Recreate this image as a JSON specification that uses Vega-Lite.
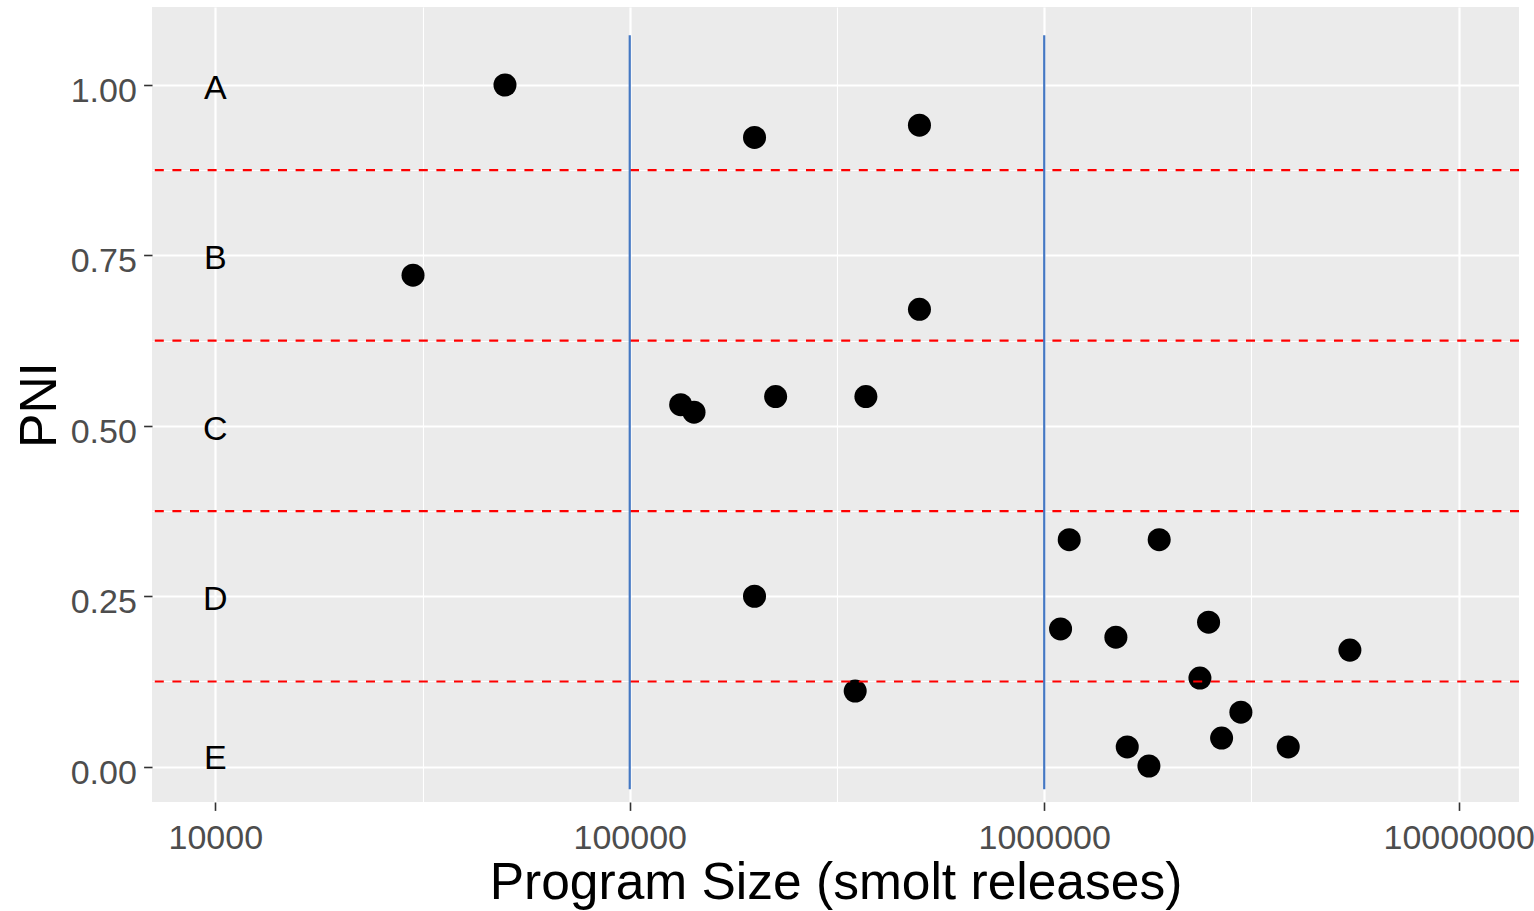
{
  "$schema": "https://vega.github.io/schema/vega-lite/v6.json",
  "width": 1367,
  "height": 795,
  "autosize": {"type": "none"},
  "padding": {"left": 152, "top": 7, "right": 15, "bottom": 109},
  "background": "white",
  "config": {
    "view": {"fill": "#EBEBEB", "stroke": null},
    "font": "Liberation Sans",
    "axis": {
      "domain": false,
      "gridColor": "white",
      "tickColor": "#333333",
      "tickWidth": 1.6,
      "tickSize": 8.4,
      "labelFont": "Liberation Sans",
      "labelFontSize": 34,
      "labelColor": "#4D4D4D",
      "titleFont": "Liberation Sans",
      "titleFontSize": 51.5,
      "titleFontWeight": "normal",
      "titleColor": "black"
    }
  },
  "datasets": {
    "points": [
      {"size": 50000, "pni": 1.0},
      {"size": 200000, "pni": 0.923},
      {"size": 500000, "pni": 0.941},
      {"size": 30000, "pni": 0.721},
      {"size": 500000, "pni": 0.671},
      {"size": 132700, "pni": 0.531},
      {"size": 142900, "pni": 0.52},
      {"size": 224900, "pni": 0.543},
      {"size": 371300, "pni": 0.543},
      {"size": 1149000, "pni": 0.333},
      {"size": 1894000, "pni": 0.333},
      {"size": 200000, "pni": 0.25},
      {"size": 1095000, "pni": 0.202},
      {"size": 1489000, "pni": 0.19},
      {"size": 2492000, "pni": 0.212},
      {"size": 5464000, "pni": 0.171},
      {"size": 2375000, "pni": 0.13},
      {"size": 349900, "pni": 0.111},
      {"size": 2982000, "pni": 0.08},
      {"size": 2679000, "pni": 0.042},
      {"size": 1586000, "pni": 0.029},
      {"size": 3879000, "pni": 0.029},
      {"size": 1789000, "pni": 0.001}
    ],
    "hlines": [
      {"cut": 0.125}, {"cut": 0.375}, {"cut": 0.625}, {"cut": 0.875}
    ],
    "vlines": [
      {"size": 100000, "lo": -0.033, "hi": 1.073},
      {"size": 1000000, "lo": -0.033, "hi": 1.073}
    ],
    "labels": [
      {"size": 10000, "pni": 1.0, "grade": "A"},
      {"size": 10000, "pni": 0.75, "grade": "B"},
      {"size": 10000, "pni": 0.5, "grade": "C"},
      {"size": 10000, "pni": 0.25, "grade": "D"},
      {"size": 10000, "pni": 0.017, "grade": "E"}
    ]
  },
  "layer": [
    {
      "data": {"name": "points"},
      "mark": {"type": "circle", "color": "black", "opacity": 1, "size": 530},
      "encoding": {
        "x": {
          "field": "size",
          "type": "quantitative",
          "scale": {"type": "log", "domain": [7036, 13980000], "nice": false},
          "axis": {
            "title": "Program Size (smolt releases)",
            "values": [10000, 31622.7766, 100000, 316227.766, 1000000, 3162277.66, 10000000],
            "format": "d",
            "labelExpr": "indexof(['10000','100000','1000000','10000000'], datum.label) >= 0 ? datum.label : ''",
            "labelBaseline": "alphabetic",
            "labelPadding": 37.6,
            "labelFlush": false,
            "labelOverlap": false,
            "gridWidth": {"condition": {"test": "indexof([10000,100000,1000000,10000000], datum.value) >= 0", "value": 2.2}, "value": 1.1},
            "tickOpacity": {"condition": {"test": "indexof([10000,100000,1000000,10000000], datum.value) >= 0", "value": 1}, "value": 0},
            "titleBaseline": "alphabetic",
            "titleY": 96
          }
        },
        "y": {
          "field": "pni",
          "type": "quantitative",
          "scale": {"domain": [-0.0518, 1.1144], "nice": false, "zero": false},
          "axis": {
            "title": "PNI",
            "values": [0, 0.125, 0.25, 0.375, 0.5, 0.625, 0.75, 0.875, 1],
            "format": ".2f",
            "labelExpr": "indexof(['0.00','0.25','0.50','0.75','1.00'], datum.label) >= 0 ? datum.label : ''",
            "labelBaseline": "alphabetic",
            "labelOffset": 16.5,
            "labelPadding": 7.2,
            "labelFlush": false,
            "labelOverlap": false,
            "gridWidth": {"condition": {"test": "indexof([0,0.25,0.5,0.75,1], datum.value) >= 0", "value": 2.2}, "value": 1.1},
            "tickOpacity": {"condition": {"test": "indexof([0,0.25,0.5,0.75,1], datum.value) >= 0", "value": 1}, "value": 0},
            "titleBaseline": "alphabetic",
            "titleAngle": -90,
            "titleX": -97
          }
        }
      }
    },
    {
      "data": {"name": "hlines"},
      "mark": {"type": "rule", "color": "#FF0000", "strokeWidth": 2.2, "strokeDash": [9, 8.6]},
      "encoding": {
        "y": {"field": "cut", "type": "quantitative"}
      }
    },
    {
      "data": {"name": "vlines"},
      "mark": {"type": "rule", "color": "#4478C3", "strokeWidth": 2.2},
      "encoding": {
        "x": {"field": "size", "type": "quantitative"},
        "y": {"field": "lo", "type": "quantitative"},
        "y2": {"field": "hi"}
      }
    },
    {
      "data": {"name": "labels"},
      "mark": {"type": "text", "font": "Liberation Sans", "fontSize": 34, "color": "black", "align": "center", "baseline": "alphabetic", "dy": 14},
      "encoding": {
        "x": {"field": "size", "type": "quantitative"},
        "y": {"field": "pni", "type": "quantitative"},
        "text": {"field": "grade", "type": "nominal"}
      }
    }
  ]
}
